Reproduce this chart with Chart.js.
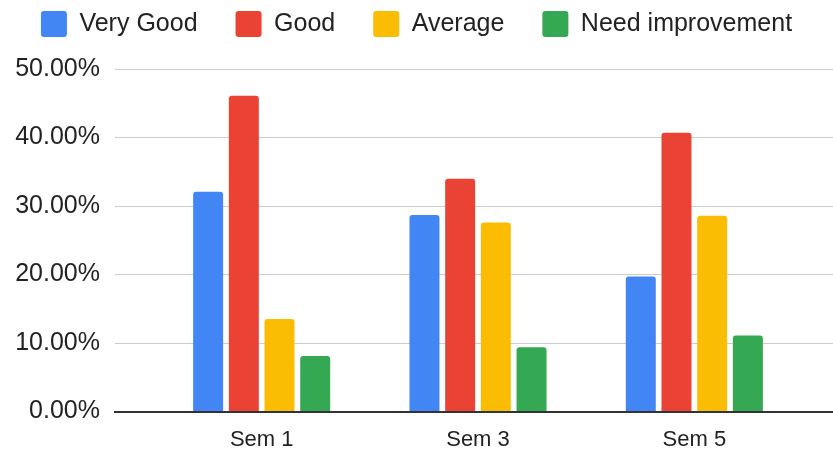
<!DOCTYPE html>
<html lang="en">
<head>
    <meta charset="UTF-8">
    <title>Grades by Semester</title>
    <style>
        html, body { margin: 0; padding: 0; background: #fff; }
        #wrap { width: 833px; height: 452px; }
    </style>
    <script src="https://cdn.jsdelivr.net/npm/chart.js"></script>
</head>
<body>
    <div id="wrap"><canvas id="myChart"></canvas></div>
    <script>
        // chart data
        var semesters = ['Sem 1', 'Sem 3', 'Sem 5'];
        var veryGood = [32.1, 28.7, 19.7];
        var good = [46.1, 34.0, 40.7];
        var average = [13.5, 27.6, 28.6];
        var needImprovement = [8.1, 9.4, 11.1];

        function points(values) {
            return values.map(function (v, i) { return { x: i, y: v }; });
        }

        function makeSet(label, values, color) {
            return {
                label: label,
                data: points(values),
                backgroundColor: color,
                borderWidth: 0,
                borderRadius: 3,
                categoryPercentage: 0.66,
                barPercentage: 0.84
            };
        }

        var font = "'Liberation Sans', Arial, sans-serif";

        // extra room between the legend and the plot
        var legendSpacer = {
            id: 'legendSpacer',
            beforeInit: function (chart) {
                var origFit = chart.legend.fit;
                chart.legend.fit = function () {
                    origFit.bind(chart.legend)();
                    this.height += 22;
                };
            }
        };

        var ctx = document.getElementById('myChart').getContext('2d');
        var myChart = new Chart(ctx, {
            type: 'bar',
            data: {
                datasets: [
                    makeSet('Very Good', veryGood, '#4285F4'),
                    makeSet('Good', good, '#EA4335'),
                    makeSet('Average', average, '#FBBC04'),
                    makeSet('Need improvement', needImprovement, '#34A853')
                ]
            },
            plugins: [legendSpacer],
            options: {
                responsive: true,
                maintainAspectRatio: false,
                animation: false,
                layout: { padding: { left: 0, right: 0, top: -27, bottom: -16 } },
                scales: {
                    x: {
                        type: 'linear',
                        offset: false,
                        min: -0.678,
                        max: 2.641,
                        afterBuildTicks: function (scale) {
                            scale.ticks = semesters.map(function (s, i) { return { value: i }; });
                        },
                        ticks: {
                            autoSkip: false,
                            maxRotation: 0,
                            padding: 15,
                            color: '#222',
                            font: { family: font, size: 22 },
                            callback: function (value) {
                                return semesters[value];
                            }
                        },
                        grid: { display: false, drawTicks: false },
                        border: { display: true, color: '#333', width: 2 }
                    },
                    y: {
                        min: 0,
                        max: 50,
                        afterFit: function (scale) { scale.width = 115; },
                        ticks: {
                            stepSize: 10,
                            padding: 15,
                            color: '#222',
                            font: { family: font, size: 25 },
                            callback: function (value) {
                                return value.toFixed(2) + '%';
                            }
                        },
                        grid: { color: '#cccccc', lineWidth: 1, drawTicks: false },
                        border: { display: false }
                    }
                },
                plugins: {
                    legend: {
                        display: true,
                        position: 'top',
                        labels: {
                            boxWidth: 26,
                            boxHeight: 26,
                            useBorderRadius: true,
                            borderRadius: 3,
                            padding: 38,
                            color: '#222',
                            font: { family: font, size: 25 }
                        }
                    },
                    tooltip: { enabled: false }
                }
            }
        });
    </script>
</body>
</html>
